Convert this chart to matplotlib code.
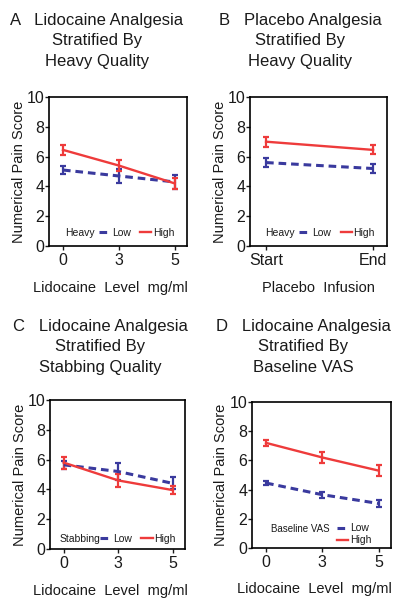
import matplotlib
matplotlib.use('Agg')
import matplotlib.pyplot as plt

plt.rcParams['font.family'] = ['Liberation Sans', 'DejaVu Sans']

# x categories
lido_levels = ['0', '3', '5']
placebo_times = ['Start', 'End']
groups = ['Low', 'High']

# A: lidocaine, heavy quality
a_low = [5.1, 4.7, 4.3]
a_low_err = [0.3, 0.45, 0.45]
a_high = [6.45, 5.4, 4.2]
a_high_err = [0.33, 0.4, 0.35]

# B: placebo, heavy quality
b_low = [5.6, 5.2]
b_low_err = [0.28, 0.28]
b_high = [7.0, 6.45]
b_high_err = [0.33, 0.3]

# C: lidocaine, stabbing quality
c_low = [5.65, 5.2, 4.4]
c_low_err = [0.27, 0.6, 0.4]
c_high = [5.8, 4.6, 3.95]
c_high_err = [0.4, 0.45, 0.28]

# D: lidocaine, baseline VAS
d_low = [4.45, 3.65, 3.05]
d_low_err = [0.15, 0.2, 0.27]
d_high = [7.2, 6.2, 5.3]
d_high_err = [0.22, 0.36, 0.4]

RED = '#ee3b3b'
BLUE = '#3a3a9e'
TXT = '#1a1a1a'

W, H = 400, 605
fig = plt.figure(figsize=(4, 6.05), dpi=100)


def px_axes(left, top, right, bottom):
    return fig.add_axes([left / W, 1 - bottom / H, (right - left) / W, (bottom - top) / H])


def panel(ax, cats, low, low_err, high, high_err, xlabel, xlab_x, strat, strat_xy, leg_xy,
          ncol=2, strat_size=7.5):
    x = list(range(len(cats)))
    lo = ax.errorbar(x, low, yerr=low_err, color=BLUE, lw=2.2, ls=(0, (2.5, 1.6)),
                     elinewidth=1.6, capsize=2.5, capthick=1.6)
    hi = ax.errorbar(x, high, yerr=high_err, color=RED, lw=1.7,
                     elinewidth=1.6, capsize=2.5, capthick=1.6)
    ax.set_ylim(0, 10)
    ax.set_yticks([0, 2, 4, 6, 8, 10])
    ax.set_xticks(x)
    ax.set_xticklabels(cats)
    if len(cats) == 3:
        ax.set_xlim(-0.25, 2.22)
    else:
        ax.set_xlim(-0.15, 1.13)
    ax.tick_params(labelsize=11.5, length=3, width=1, colors=TXT)
    ax.tick_params(axis='y', pad=0.5)
    ax.tick_params(axis='x', pad=2)
    for s in ax.spines.values():
        s.set_linewidth(1.2)
    ax.set_ylabel('Numerical Pain Score', fontsize=10.5, color=TXT)
    ax.yaxis.set_label_coords(-0.17, 0.5)
    ax.set_xlabel(xlabel, fontsize=10.5, color=TXT)
    ax.xaxis.set_label_coords(xlab_x, -0.235)
    leg = ax.legend([lo[0], hi[0]], groups, loc='center left', bbox_to_anchor=leg_xy,
                    ncol=ncol, frameon=False, fontsize=7.5, handlelength=1.1,
                    handletextpad=0.15, columnspacing=0.9, labelspacing=0.2,
                    borderpad=0, borderaxespad=0)
    for t in leg.get_texts():
        t.set_color(TXT)
    ax.text(strat_xy[0], strat_xy[1], strat, transform=ax.transAxes, fontsize=strat_size,
            color=TXT, va='center')


def title(cx, cy, txt):
    fig.text(cx / W, 1 - cy / H, txt, ha='center', va='center', fontsize=12,
             linespacing=1.45, color=TXT)


ax_a = px_axes(49, 97, 187, 246)
panel(ax_a, lido_levels, a_low, a_low_err, a_high, a_high_err,
      'Lidocaine  Level  mg/ml', 0.442, 'Heavy', (0.116, 0.087), (0.36, 0.087))
title(97, 41, 'A   Lidocaine Analgesia\nStratified By\nHeavy Quality')

ax_b = px_axes(250, 97, 387, 246)
panel(ax_b, placebo_times, b_low, b_low_err, b_high, b_high_err,
      'Placebo  Infusion', 0.5, 'Heavy', (0.11, 0.087), (0.36, 0.087))
title(300, 41, 'B   Placebo Analgesia\nStratified By\nHeavy Quality')

ax_c = px_axes(50, 400, 185, 549)
panel(ax_c, lido_levels, c_low, c_low_err, c_high, c_high_err,
      'Lidocaine  Level  mg/ml', 0.444, 'Stabbing', (0.074, 0.067), (0.37, 0.067))
title(100, 347, 'C   Lidocaine Analgesia\nStratified By\nStabbing Quality')

ax_d = px_axes(252, 402, 391, 548)
panel(ax_d, lido_levels, d_low, d_low_err, d_high, d_high_err,
      'Lidocaine  Level  mg/ml', 0.446, 'Baseline VAS', (0.14, 0.13), (0.61, 0.093),
      ncol=1, strat_size=7)
title(303, 347, 'D   Lidocaine Analgesia\nStratified By\nBaseline VAS')

fig.savefig('out.png', dpi=100)
